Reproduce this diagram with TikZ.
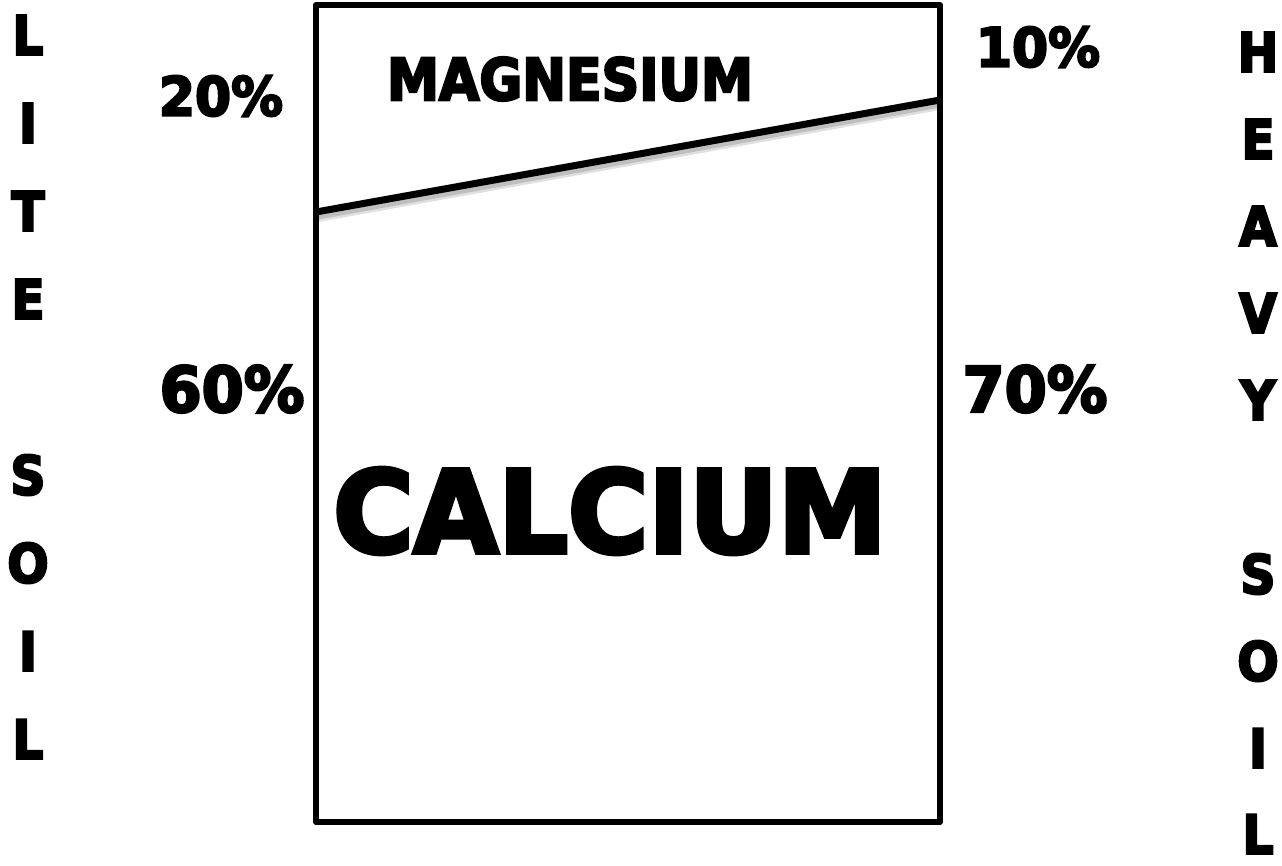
\documentclass[tikz,border=0pt]{standalone}
\usepackage{fontspec}
\usetikzlibrary{calc}
\newfontfamily\blackfont{DejaVu Sans Bold}[FakeBold=4, FakeStretch=0.9]
\newfontfamily\widefont{DejaVu Sans Bold}[FakeBold=4, FakeStretch=0.96]

\tikzset{
  word/.style={inner sep=0pt, font=\blackfont\fontsize{58}{58}\selectfont},
  bigword/.style={inner sep=0pt, font=\widefont\fontsize{114}{114}\selectfont},
  pct/.style={inner sep=0pt, font=\widefont\fontsize{54}{54}\selectfont},
  bigpct/.style={inner sep=0pt, font=\widefont\fontsize{63}{63}\selectfont},
  letter/.style={inner sep=0pt, font=\blackfont\fontsize{54}{54}\selectfont}
}

\begin{document}
\begin{tikzpicture}[x=1pt, y=-1pt]
  \useasboundingbox (0,0) rectangle (1282,865);

  % 盒子四角
  \coordinate (TL) at (316, 5);
  \coordinate (BR) at (940, 822);
  % 分界线两端
  \coordinate (Lmid) at (316, 212);
  \coordinate (Rmid) at (940, 100);

  % 分界线下的阴影
  \draw[black!12, line width=8pt] ($(Lmid)+(2,6)$) -- ($(Rmid)+(0,6)$);
  \draw[black!25, line width=5pt] ($(Lmid)+(2,5)$) -- ($(Rmid)+(0,5)$);
  \draw[line width=6pt, line cap=round, line join=round] (TL) rectangle (BR);
  \draw[line width=7pt] (Lmid) -- (Rmid);

  \node[word]    (mg) at (570, 79)  {MAGNESIUM};
  \node[bigword] (ca) at (610, 511) {CALCIUM};

  \node[pct]    (p20) at (221, 96)  {20\%};
  \node[bigpct] (p60) at (232, 389) {60\%};
  \node[pct]    (p10) at (1038, 47) {10\%};
  \node[bigpct] (p70) at (1035, 389) {70\%};

  % 左侧竖排 LITE SOIL
  \node[letter] (l1) at (28, 35)  {L};
  \node[letter] (l2) at (28, 123) {I};
  \node[letter] (l3) at (28, 211) {T};
  \node[letter] (l4) at (28, 299) {E};
  \node[letter] (l5) at (28, 475) {S};
  \node[letter] (l6) at (28, 563) {O};
  \node[letter] (l7) at (28, 651) {I};
  \node[letter] (l8) at (28, 739) {L};

  % 右侧竖排 HEAVY SOIL
  \node[letter] (h1) at (1258, 52)  {H};
  \node[letter] (h2) at (1258, 139) {E};
  \node[letter] (h3) at (1258, 226) {A};
  \node[letter] (h4) at (1258, 313) {V};
  \node[letter] (h5) at (1258, 400) {Y};
  \node[letter] (h6) at (1258, 574) {S};
  \node[letter] (h7) at (1258, 661) {O};
  \node[letter] (h8) at (1258, 748) {I};
  \node[letter] (h9) at (1258, 834) {L};
\end{tikzpicture}
\end{document}
